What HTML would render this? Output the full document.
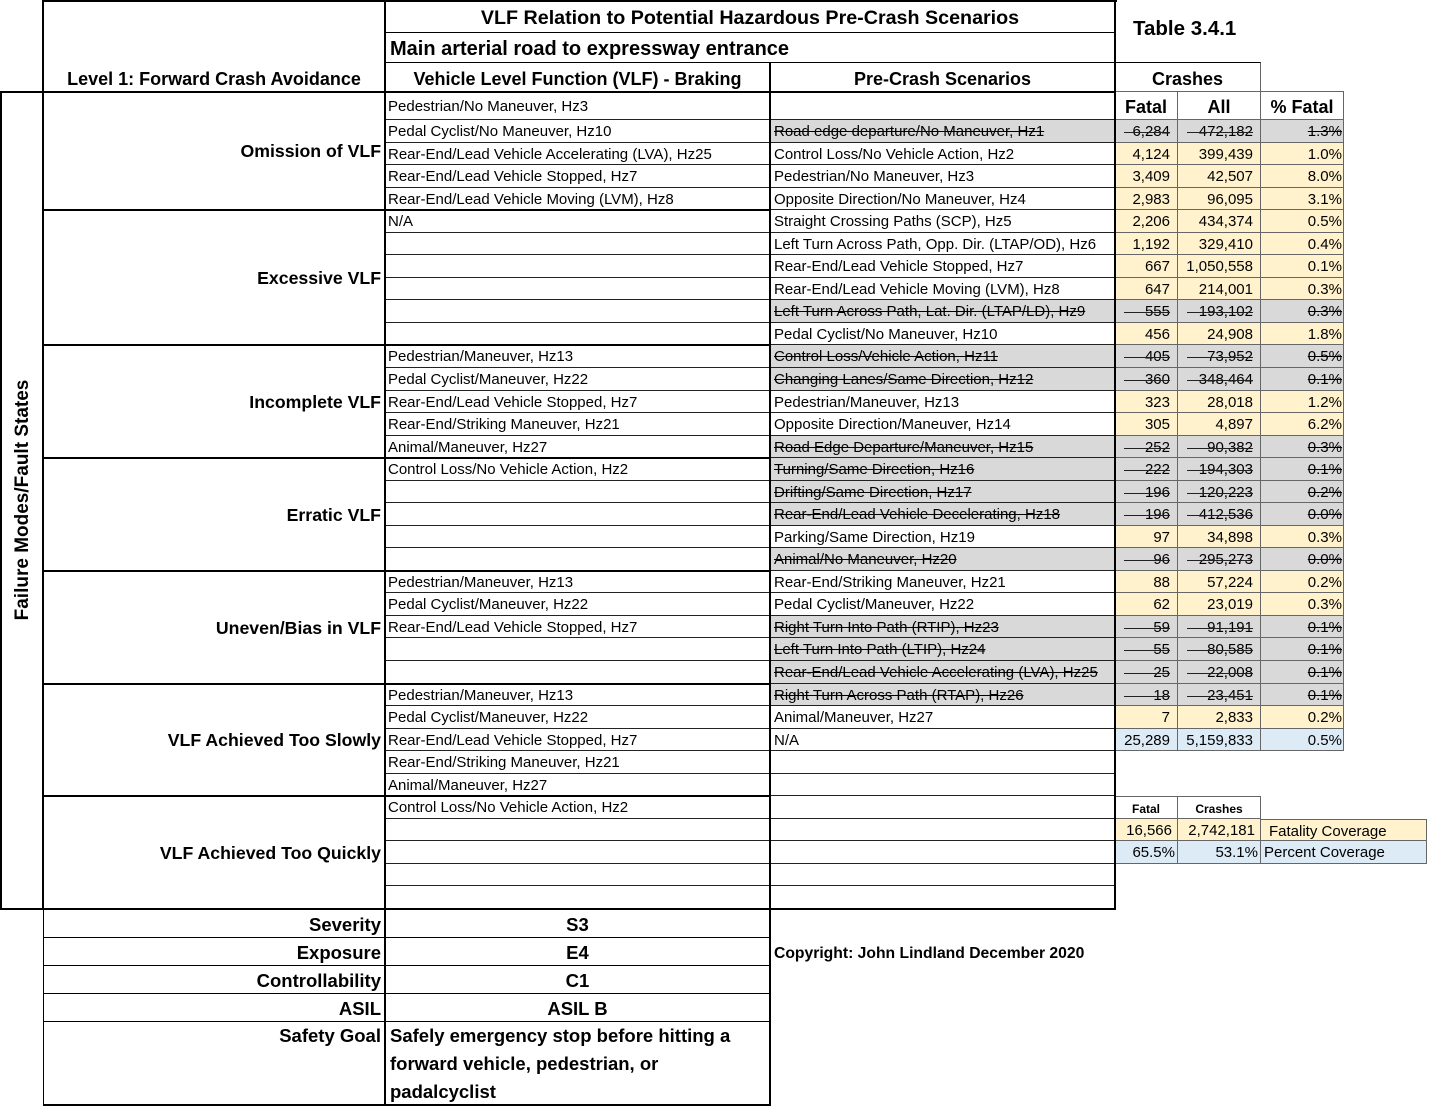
<!DOCTYPE html>
<html><head><meta charset="utf-8"><style>
*{box-sizing:border-box}
body{margin:0;width:1429px;height:1107px;position:relative;overflow:hidden;background:#fff;font-family:"Liberation Sans",Arial,sans-serif;color:#000}
.a{position:absolute;white-space:nowrap}
.b{font-weight:bold}
.k{position:absolute;background:#000}
.r{position:absolute;left:385px;width:730px;height:22.54px;border-bottom:1px solid #222;font-size:15px;line-height:24px}
.r>span{position:absolute;top:0;white-space:nowrap}
.v{left:3px}
.p{left:385px;width:345px;bottom:0;padding-left:4px}
.g{background:#d9d9d9}
.n{height:22.54px;border-bottom:1px solid #666;border-right:1px solid #666;text-align:right;padding-right:7px;background:#fff2cc}
.f{left:730px;width:63px}
.l{left:793px;width:83px}
.q{left:876px;width:83px;padding-right:1px !important}
.n.g{background:#d9d9d9}
.n.u{background:#ddebf7}
.s::before{content:"";position:absolute;left:9px;right:7px;top:12px;border-top:1px solid #222}
.sec{position:absolute;left:43px;width:338px;height:24px;line-height:24px;text-align:right;font-weight:bold;font-size:17.7px;white-space:nowrap}
.bl{position:absolute;left:43px;width:338px;height:26px;line-height:26px;text-align:right;font-weight:bold;font-size:18.5px;white-space:nowrap}
.bv{position:absolute;left:385px;width:385px;height:26px;line-height:26px;text-align:center;font-weight:bold;font-size:18.5px;white-space:nowrap}
.h{position:absolute;border-top:1px solid #666;border-right:1px solid #666;border-bottom:1px solid #666;font-weight:bold;font-size:18px;text-align:center;line-height:31px;white-space:nowrap}
.cv{position:absolute;height:22.6px;border-right:1px solid #666;border-bottom:1px solid #666;font-size:15px;line-height:23px;white-space:nowrap}
</style></head><body>

<!-- Header texts -->
<div class="a b" style="left:385px;width:730px;top:3px;height:30px;line-height:30px;text-align:center;font-size:19.7px">VLF Relation to Potential Hazardous Pre-Crash Scenarios</div>
<div class="a b" style="left:390px;top:34px;height:30px;line-height:30px;font-size:20px">Main arterial road to expressway entrance</div>
<div class="a b" style="left:385px;width:385px;top:64px;height:30px;line-height:30px;text-align:center;font-size:18px">Vehicle Level Function (VLF) - Braking</div>
<div class="a b" style="left:770px;width:345px;top:64px;height:30px;line-height:30px;text-align:center;font-size:18px">Pre-Crash Scenarios</div>
<div class="a b" style="left:43px;width:342px;top:64px;height:30px;line-height:30px;text-align:center;font-size:18px">Level 1: Forward Crash Avoidance</div>
<div class="a b" style="left:1133px;top:14px;height:30px;line-height:30px;font-size:20.5px">Table 3.4.1</div>

<!-- Crashes box -->
<div class="a b" style="left:1115px;top:62px;width:146px;height:30px;border-top:1px solid #000;border-right:1px solid #666;text-align:center;line-height:33px;font-size:18px">Crashes</div>
<div class="h" style="left:1115px;top:91px;width:63px;height:29px">Fatal</div>
<div class="h" style="left:1178px;top:91px;width:83px;height:29px">All</div>
<div class="h" style="left:1261px;top:91px;width:83px;height:29px">% Fatal</div>

<!-- Row 0 -->
<div class="r" style="top:92px;height:28px;line-height:30px"><span class="v">Pedestrian/No Maneuver, Hz3</span></div>

<div class="r" style="top:120px"><span class="v">Pedal Cyclist/No Maneuver, Hz10</span><span class="p g"><s>Road edge departure/No Maneuver, Hz1</s></span><span class="n f g s">6,284</span><span class="n l g s">472,182</span><span class="n q g"><s>1.3%</s></span></div>
<div class="r" style="top:142.54px"><span class="v">Rear-End/Lead Vehicle Accelerating (LVA), Hz25</span><span class="p">Control Loss/No Vehicle Action, Hz2</span><span class="n f">4,124</span><span class="n l">399,439</span><span class="n q">1.0%</span></div>
<div class="r" style="top:165.09px"><span class="v">Rear-End/Lead Vehicle Stopped, Hz7</span><span class="p">Pedestrian/No Maneuver, Hz3</span><span class="n f">3,409</span><span class="n l">42,507</span><span class="n q">8.0%</span></div>
<div class="r" style="top:187.63px"><span class="v">Rear-End/Lead Vehicle Moving (LVM), Hz8</span><span class="p">Opposite Direction/No Maneuver, Hz4</span><span class="n f">2,983</span><span class="n l">96,095</span><span class="n q">3.1%</span></div>
<div class="r" style="top:210.17px"><span class="v">N/A</span><span class="p">Straight Crossing Paths (SCP), Hz5</span><span class="n f">2,206</span><span class="n l">434,374</span><span class="n q">0.5%</span></div>
<div class="r" style="top:232.71px"><span class="p">Left Turn Across Path, Opp. Dir. (LTAP/OD), Hz6</span><span class="n f">1,192</span><span class="n l">329,410</span><span class="n q">0.4%</span></div>
<div class="r" style="top:255.26px"><span class="p">Rear-End/Lead Vehicle Stopped, Hz7</span><span class="n f">667</span><span class="n l">1,050,558</span><span class="n q">0.1%</span></div>
<div class="r" style="top:277.8px"><span class="p">Rear-End/Lead Vehicle Moving (LVM), Hz8</span><span class="n f">647</span><span class="n l">214,001</span><span class="n q">0.3%</span></div>
<div class="r" style="top:300.34px"><span class="p g"><s>Left Turn Across Path, Lat. Dir. (LTAP/LD), Hz9</s></span><span class="n f g s">555</span><span class="n l g s">193,102</span><span class="n q g"><s>0.3%</s></span></div>
<div class="r" style="top:322.89px"><span class="p">Pedal Cyclist/No Maneuver, Hz10</span><span class="n f">456</span><span class="n l">24,908</span><span class="n q">1.8%</span></div>
<div class="r" style="top:345.43px"><span class="v">Pedestrian/Maneuver, Hz13</span><span class="p g"><s>Control Loss/Vehicle Action, Hz11</s></span><span class="n f g s">405</span><span class="n l g s">73,952</span><span class="n q g"><s>0.5%</s></span></div>
<div class="r" style="top:367.97px"><span class="v">Pedal Cyclist/Maneuver, Hz22</span><span class="p g"><s>Changing Lanes/Same Direction, Hz12</s></span><span class="n f g s">360</span><span class="n l g s">348,464</span><span class="n q g"><s>0.1%</s></span></div>
<div class="r" style="top:390.51px"><span class="v">Rear-End/Lead Vehicle Stopped, Hz7</span><span class="p">Pedestrian/Maneuver, Hz13</span><span class="n f">323</span><span class="n l">28,018</span><span class="n q">1.2%</span></div>
<div class="r" style="top:413.06px"><span class="v">Rear-End/Striking Maneuver, Hz21</span><span class="p">Opposite Direction/Maneuver, Hz14</span><span class="n f">305</span><span class="n l">4,897</span><span class="n q">6.2%</span></div>
<div class="r" style="top:435.6px"><span class="v">Animal/Maneuver, Hz27</span><span class="p g"><s>Road Edge Departure/Maneuver, Hz15</s></span><span class="n f g s">252</span><span class="n l g s">90,382</span><span class="n q g"><s>0.3%</s></span></div>
<div class="r" style="top:458.14px"><span class="v">Control Loss/No Vehicle Action, Hz2</span><span class="p g"><s>Turning/Same Direction, Hz16</s></span><span class="n f g s">222</span><span class="n l g s">194,303</span><span class="n q g"><s>0.1%</s></span></div>
<div class="r" style="top:480.69px"><span class="p g"><s>Drifting/Same Direction, Hz17</s></span><span class="n f g s">196</span><span class="n l g s">120,223</span><span class="n q g"><s>0.2%</s></span></div>
<div class="r" style="top:503.23px"><span class="p g"><s>Rear-End/Lead Vehicle Decelerating, Hz18</s></span><span class="n f g s">196</span><span class="n l g s">412,536</span><span class="n q g"><s>0.0%</s></span></div>
<div class="r" style="top:525.77px"><span class="p">Parking/Same Direction, Hz19</span><span class="n f">97</span><span class="n l">34,898</span><span class="n q">0.3%</span></div>
<div class="r" style="top:548.31px"><span class="p g"><s>Animal/No Maneuver, Hz20</s></span><span class="n f g s">96</span><span class="n l g s">295,273</span><span class="n q g"><s>0.0%</s></span></div>
<div class="r" style="top:570.86px"><span class="v">Pedestrian/Maneuver, Hz13</span><span class="p">Rear-End/Striking Maneuver, Hz21</span><span class="n f">88</span><span class="n l">57,224</span><span class="n q">0.2%</span></div>
<div class="r" style="top:593.4px"><span class="v">Pedal Cyclist/Maneuver, Hz22</span><span class="p">Pedal Cyclist/Maneuver, Hz22</span><span class="n f">62</span><span class="n l">23,019</span><span class="n q">0.3%</span></div>
<div class="r" style="top:615.94px"><span class="v">Rear-End/Lead Vehicle Stopped, Hz7</span><span class="p g"><s>Right Turn Into Path (RTIP), Hz23</s></span><span class="n f g s">59</span><span class="n l g s">91,191</span><span class="n q g"><s>0.1%</s></span></div>
<div class="r" style="top:638.49px"><span class="p g"><s>Left Turn Into Path (LTIP), Hz24</s></span><span class="n f g s">55</span><span class="n l g s">80,585</span><span class="n q g"><s>0.1%</s></span></div>
<div class="r" style="top:661.03px"><span class="p g"><s>Rear-End/Lead Vehicle Accelerating (LVA), Hz25</s></span><span class="n f g s">25</span><span class="n l g s">22,008</span><span class="n q g"><s>0.1%</s></span></div>
<div class="r" style="top:683.57px"><span class="v">Pedestrian/Maneuver, Hz13</span><span class="p g"><s>Right Turn Across Path (RTAP), Hz26</s></span><span class="n f g s">18</span><span class="n l g s">23,451</span><span class="n q g"><s>0.1%</s></span></div>
<div class="r" style="top:706.11px"><span class="v">Pedal Cyclist/Maneuver, Hz22</span><span class="p">Animal/Maneuver, Hz27</span><span class="n f">7</span><span class="n l">2,833</span><span class="n q">0.2%</span></div>
<div class="r" style="top:728.66px"><span class="v">Rear-End/Lead Vehicle Stopped, Hz7</span><span class="p">N/A</span><span class="n f u">25,289</span><span class="n l u">5,159,833</span><span class="n q u">0.5%</span></div>
<div class="r" style="top:751.2px"><span class="v">Rear-End/Striking Maneuver, Hz21</span></div>
<div class="r" style="top:773.74px"><span class="v">Animal/Maneuver, Hz27</span></div>
<div class="r" style="top:796.29px"><span class="v">Control Loss/No Vehicle Action, Hz2</span></div>
<div class="r" style="top:818.83px"></div>
<div class="r" style="top:841.37px"></div>
<div class="r" style="top:863.91px"></div>
<div class="r" style="top:886.46px"></div>

<!-- Coverage mini table -->
<div class="a b" style="left:1115px;top:796px;width:63px;height:23px;border-top:1px solid #666;border-right:1px solid #666;border-bottom:1px solid #666;font-size:12px;text-align:center;line-height:25px">Fatal</div>
<div class="a b" style="left:1178px;top:796px;width:83px;height:23px;border-top:1px solid #666;border-right:1px solid #666;border-bottom:1px solid #666;font-size:12px;text-align:center;line-height:25px">Crashes</div>
<div class="cv" style="left:1115px;top:818.8px;width:63px;background:#fff2cc;text-align:right;padding-right:5px">16,566</div>
<div class="cv" style="left:1178px;top:818.8px;width:83px;background:#fff2cc;text-align:right;padding-right:5px">2,742,181</div>
<div class="cv" style="left:1261px;top:818.8px;width:166px;background:#fff2cc;padding-left:8px;border-top:1px solid #666">Fatality Coverage</div>
<div class="cv" style="left:1115px;top:841.4px;width:63px;background:#ddebf7;text-align:right;padding-right:2px">65.5%</div>
<div class="cv" style="left:1178px;top:841.4px;width:83px;background:#ddebf7;text-align:right;padding-right:2px">53.1%</div>
<div class="cv" style="left:1261px;top:841.4px;width:166px;background:#ddebf7;padding-left:3px">Percent Coverage</div>

<!-- Section labels -->
<div class="sec" style="top:139px">Omission of VLF</div>
<div class="sec" style="top:266px">Excessive VLF</div>
<div class="sec" style="top:390px">Incomplete VLF</div>
<div class="sec" style="top:503px">Erratic VLF</div>
<div class="sec" style="top:616px">Uneven/Bias in VLF</div>
<div class="sec" style="top:728px">VLF Achieved Too Slowly</div>
<div class="sec" style="top:841px">VLF Achieved Too Quickly</div>

<!-- Vertical label -->
<div class="a b" style="left:-177px;top:488px;width:400px;height:24px;line-height:24px;text-align:center;font-size:19px;transform:rotate(-90deg)">Failure Modes/Fault States</div>

<!-- Bottom section -->
<div class="bl" style="top:912px">Severity</div><div class="bv" style="top:912px">S3</div>
<div class="bl" style="top:940px">Exposure</div><div class="bv" style="top:940px">E4</div>
<div class="bl" style="top:968px">Controllability</div><div class="bv" style="top:968px">C1</div>
<div class="bl" style="top:996px">ASIL</div><div class="bv" style="top:996px">ASIL B</div>
<div class="bl" style="top:1023px">Safety Goal</div>
<div class="a b" style="left:390px;top:1022px;line-height:28px;font-size:18.5px">Safely emergency stop before hitting a<br>forward vehicle, pedestrian, or<br>padalcyclist</div>
<div class="a b" style="left:774px;top:942px;height:24px;line-height:24px;font-size:15.7px">Copyright: John Lindland December 2020</div>

<!-- Lines -->
<div class="k" style="left:42px;top:0;width:1075px;height:2px"></div>
<div class="k" style="left:385px;top:32px;width:731px;height:1px"></div>
<div class="k" style="left:385px;top:62px;width:731px;height:1px"></div>
<div class="k" style="left:0;top:91px;width:1116px;height:2px"></div>
<div class="k" style="left:43px;top:209.2px;width:728px;height:2px"></div>
<div class="k" style="left:43px;top:344.4px;width:728px;height:2px"></div>
<div class="k" style="left:43px;top:457.1px;width:728px;height:2px"></div>
<div class="k" style="left:43px;top:569.9px;width:728px;height:2px"></div>
<div class="k" style="left:43px;top:682.6px;width:728px;height:2px"></div>
<div class="k" style="left:43px;top:795.3px;width:728px;height:2px"></div>
<div class="k" style="left:0;top:908px;width:1116px;height:2px"></div>
<div class="k" style="left:43px;top:937px;width:727px;height:1px"></div>
<div class="k" style="left:43px;top:965px;width:727px;height:1px"></div>
<div class="k" style="left:43px;top:993px;width:727px;height:1px"></div>
<div class="k" style="left:43px;top:1021px;width:727px;height:1px"></div>
<div class="k" style="left:43px;top:1104px;width:728px;height:2px"></div>
<!-- verticals -->
<div class="k" style="left:0;top:91px;width:2px;height:819px"></div>
<div class="k" style="left:42px;top:0;width:2px;height:910px"></div>
<div class="k" style="left:43px;top:909px;width:1px;height:197px"></div>
<div class="k" style="left:384px;top:0;width:2px;height:1106px"></div>
<div class="k" style="left:769px;top:62px;width:2px;height:1044px"></div>
<div class="k" style="left:1114px;top:0;width:2px;height:910px"></div>

</body></html>
